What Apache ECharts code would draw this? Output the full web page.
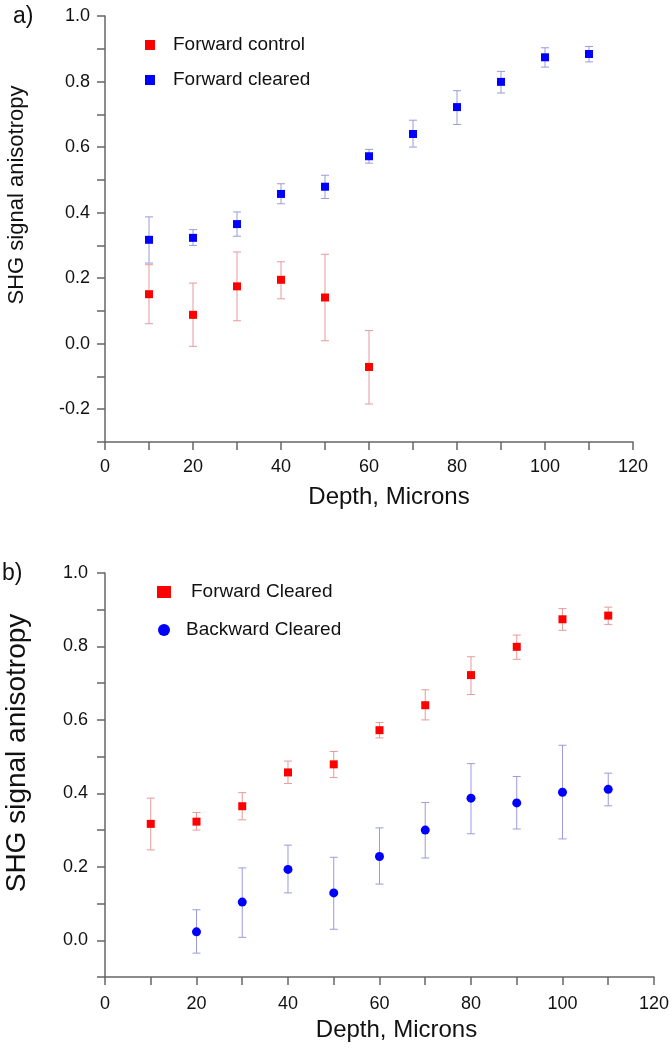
<!DOCTYPE html>
<html>
<head>
<meta charset="utf-8">
<script src="https://cdn.jsdelivr.net/npm/echarts@6/dist/echarts.min.js"></script>
<style>
  html, body { margin: 0; padding: 0; background: #fff; }
  #chart { width: 672px; height: 1050px; }
</style>
</head>
<body>
<div id="chart"></div>
<script>
// panel a) forward control (red squares)
const controlDepth = [10, 20, 30, 40, 50, 60]
const controlMean = [0.151, 0.088, 0.175, 0.195, 0.141, -0.071]
const controlLow = [0.061, -0.008, 0.070, 0.137, 0.009, -0.184]
const controlHigh = [0.241, 0.185, 0.280, 0.250, 0.273, 0.040]

// forward cleared (blue in a, red in b)
const clearedDepth = [10, 20, 30, 40, 50, 60, 70, 80, 90, 100, 110]
const clearedMean = [0.317, 0.323, 0.365, 0.457, 0.479, 0.572, 0.640, 0.722, 0.799, 0.874, 0.884]
const clearedLow = [0.246, 0.300, 0.328, 0.427, 0.443, 0.551, 0.600, 0.669, 0.765, 0.844, 0.860]
const clearedHigh = [0.387, 0.348, 0.402, 0.488, 0.514, 0.593, 0.682, 0.772, 0.831, 0.903, 0.907]

// panel b) backward cleared (blue circles)
const backDepth = [20, 30, 40, 50, 60, 70, 80, 90, 100, 110]
const backMean = [0.023, 0.104, 0.193, 0.129, 0.228, 0.300, 0.387, 0.374, 0.403, 0.411]
const backLow = [-0.035, 0.008, 0.129, 0.030, 0.153, 0.224, 0.290, 0.303, 0.276, 0.366]
const backHigh = [0.083, 0.197, 0.259, 0.226, 0.306, 0.375, 0.481, 0.446, 0.531, 0.455]

const RED = '#ff0000'
const BLUE = '#0000ff'
const RED_BAR = '#e79a9a'
const BLUE_BAR = '#9a9ae0'
const AXIS = '#666'
const FONT = 'Liberation Sans, Arial, sans-serif'

const points = (xs, ys) => xs.map((x, i) => [x, ys[i]])
const bars = (xs, lo, hi) => xs.map((x, i) => [x, lo[i], hi[i]])

const errorBars = (name, idx, data, color) => ({
  name: name,
  type: 'custom',
  xAxisIndex: idx,
  yAxisIndex: idx,
  silent: true,
  z: 1,
  data: data,
  renderItem: (params, api) => {
    const top = api.coord([api.value(0), api.value(2)])
    const bot = api.coord([api.value(0), api.value(1)])
    const w = 4
    const st = { stroke: color, lineWidth: 1 }
    return {
      type: 'group',
      children: [
        { type: 'line', shape: { x1: top[0], y1: top[1], x2: bot[0], y2: bot[1] }, style: st },
        { type: 'line', shape: { x1: top[0] - w, y1: top[1], x2: top[0] + w, y2: top[1] }, style: st },
        { type: 'line', shape: { x1: bot[0] - w, y1: bot[1], x2: bot[0] + w, y2: bot[1] }, style: st },
      ],
    }
  },
})

const xAxis = (idx, max, labelMargin, nameGap, namePad) => ({
  type: 'value',
  gridIndex: idx,
  min: 0,
  max: max,
  interval: 10,
  name: 'Depth, Microns',
  nameLocation: 'middle',
  nameGap: nameGap,
  nameTextStyle: { fontSize: 24, color: '#111', fontFamily: FONT, padding: [0, 0, 0, namePad] },
  axisLine: { show: true, onZero: false, lineStyle: { color: AXIS, width: 1.5 } },
  axisTick: { show: true, inside: false, length: 8, lineStyle: { color: AXIS, width: 1.5 } },
  splitLine: { show: false },
  axisLabel: {
    margin: labelMargin,
    fontSize: 18,
    color: '#111',
    fontFamily: FONT,
    formatter: v => (v % 20 === 0 ? String(v) : ''),
  },
})

const yAxis = (idx, min, labelMargin) => ({
  type: 'value',
  gridIndex: idx,
  min: min,
  max: 1.0,
  interval: 0.1,
  axisLine: { show: true, onZero: false, lineStyle: { color: AXIS, width: 1.5 } },
  axisTick: { show: true, inside: false, length: 8, lineStyle: { color: AXIS, width: 1.5 } },
  splitLine: { show: false },
  axisLabel: {
    margin: labelMargin,
    fontSize: 18,
    color: '#111',
    fontFamily: FONT,
    formatter: v => {
      const k = Math.round(v * 10)
      return k % 2 === 0 ? (k / 10).toFixed(1) : ''
    },
  },
})

const chart = echarts.init(document.getElementById('chart'))
chart.setOption({
  backgroundColor: '#fff',
  animation: false,
  grid: [
    { left: 105, top: 16, width: 528, height: 426 },
    { left: 105, top: 573, width: 558, height: 404 },
  ],
  xAxis: [xAxis(0, 120, 16, 43, 40), xAxis(1, 120, 18, 41, 34)],
  yAxis: [yAxis(0, -0.3, 15), yAxis(1, -0.1, 17)],
  legend: [
    {
      orient: 'vertical',
      left: 140,
      top: 30,
      itemWidth: 10,
      itemHeight: 10,
      itemGap: 15,
      textStyle: { fontSize: 19, color: '#111', fontFamily: FONT, lineHeight: 20, padding: [0, 0, 0, 13] },
      data: [
        { name: 'Forward control', icon: 'rect', itemStyle: { color: RED } },
        { name: 'Forward cleared', icon: 'rect', itemStyle: { color: BLUE } },
      ],
    },
    {
      orient: 'vertical',
      left: 152,
      top: 577,
      itemWidth: 14,
      itemHeight: 12,
      itemGap: 18,
      textStyle: { fontSize: 19, color: '#111', fontFamily: FONT, lineHeight: 20 },
      data: [
        { name: 'Forward Cleared', icon: 'rect', itemStyle: { color: RED }, textStyle: { padding: [0, 0, 0, 15] } },
        { name: 'Backward Cleared', icon: 'circle', itemStyle: { color: BLUE }, textStyle: { padding: [0, 0, 0, 10] } },
      ],
    },
  ],
  graphic: [
    { type: 'text', left: 13, top: 5, style: { text: 'a)', fontSize: 23, fill: '#111', fontFamily: FONT } },
    { type: 'text', left: 2, top: 562, style: { text: 'b)', fontSize: 23, fill: '#111', fontFamily: FONT } },
    {
      type: 'text', x: 17, y: 195, rotation: Math.PI / 2,
      style: { text: 'SHG signal anisotropy', fontSize: 22, fill: '#111', fontFamily: FONT, align: 'center', verticalAlign: 'middle' },
    },
    {
      type: 'text', x: 17, y: 753, rotation: Math.PI / 2,
      style: { text: 'SHG signal anisotropy', fontSize: 28, fill: '#111', fontFamily: FONT, align: 'center', verticalAlign: 'middle' },
    },
  ],
  series: [
    errorBars('control err', 0, bars(controlDepth, controlLow, controlHigh), RED_BAR),
    errorBars('cleared err a', 0, bars(clearedDepth, clearedLow, clearedHigh), BLUE_BAR),
    {
      name: 'Forward control',
      type: 'scatter',
      xAxisIndex: 0,
      yAxisIndex: 0,
      symbol: 'rect',
      symbolSize: 8,
      itemStyle: { color: RED, opacity: 1 },
      z: 3,
      data: points(controlDepth, controlMean),
    },
    {
      name: 'Forward cleared',
      type: 'scatter',
      xAxisIndex: 0,
      yAxisIndex: 0,
      symbol: 'rect',
      symbolSize: 8,
      itemStyle: { color: BLUE, opacity: 1 },
      z: 3,
      data: points(clearedDepth, clearedMean),
    },
    errorBars('cleared err b', 1, bars(clearedDepth, clearedLow, clearedHigh), RED_BAR),
    errorBars('back err', 1, bars(backDepth, backLow, backHigh), BLUE_BAR),
    {
      name: 'Forward Cleared',
      type: 'scatter',
      xAxisIndex: 1,
      yAxisIndex: 1,
      symbol: 'rect',
      symbolSize: 8,
      itemStyle: { color: RED, opacity: 1 },
      z: 3,
      data: points(clearedDepth, clearedMean),
    },
    {
      name: 'Backward Cleared',
      type: 'scatter',
      xAxisIndex: 1,
      yAxisIndex: 1,
      symbol: 'circle',
      symbolSize: 9,
      itemStyle: { color: BLUE, opacity: 1 },
      z: 3,
      data: points(backDepth, backMean),
    },
  ],
})
</script>
</body>
</html>
